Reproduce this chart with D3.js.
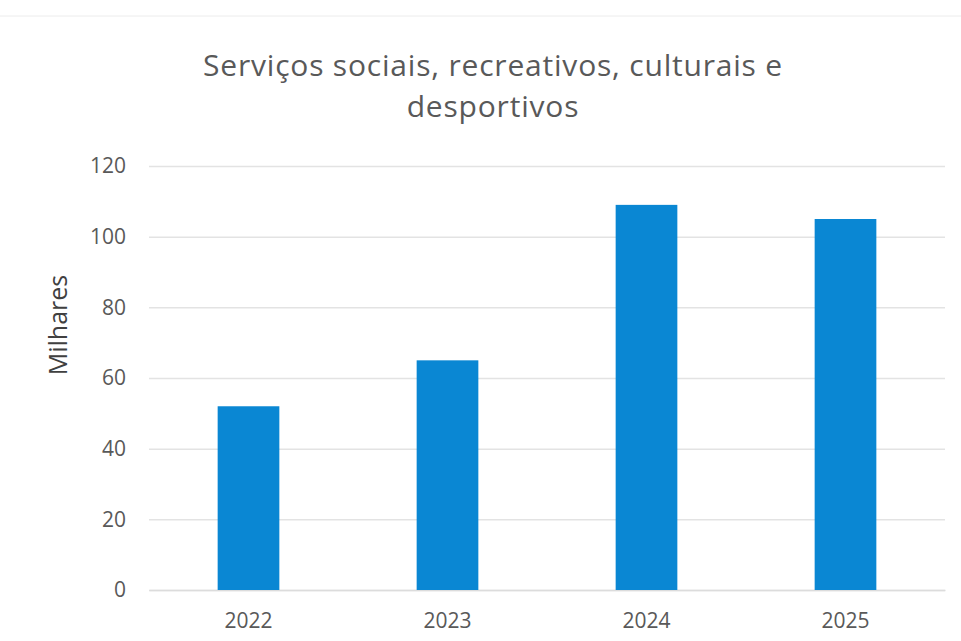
<!DOCTYPE html>
<html>
<head>
<meta charset="utf-8">
<script src="https://cdn.jsdelivr.net/npm/d3@7"></script>
<style>
  body { margin: 0; background: #fff; }
  svg { display: block; }
</style>
</head>
<body>
<svg id="vis" width="961" height="641"></svg>
<script>
var vis = d3.select("#vis");

// chart data
var years = ["2022", "2023", "2024", "2025"];
var values = [52, 65, 109, 105];
var yTicks = [0, 20, 40, 60, 80, 100, 120];
var titleLines = ["Serviços sociais, recreativos, culturais e", "desportivos"];
var yLabel = "Milhares";

var font = "'Open Sans', sans-serif";
var textColor = "#595959";

// plot area
var plotLeft = 149, plotRight = 945, plotTop = 166, plotBottom = 590;

var x = d3.scaleBand()
    .domain(years)
    .range([plotLeft, plotRight])
    .paddingInner(0.69)
    .paddingOuter(0.345);

var y = d3.scaleLinear()
    .domain([0, 120])
    .range([plotBottom, plotTop]);

// faint chart border at top
vis.append("line")
    .attr("x1", 0).attr("x2", 961)
    .attr("y1", 16).attr("y2", 16)
    .attr("stroke", "#ececec")
    .attr("stroke-width", 1);

// title
vis.append("text")
    .attr("text-anchor", "middle")
    .attr("font-family", font)
    .attr("font-size", "30px")
    .attr("letter-spacing", "0.8px")
    .attr("fill", textColor)
    .selectAll("tspan")
    .data(titleLines)
    .enter().append("tspan")
    .attr("x", 493)
    .attr("y", (d, i) => 76 + i * 41)
    .text(d => d);

// gridlines + y tick labels
var yAxis = d3.axisLeft(y)
    .tickValues(yTicks)
    .tickSize(-(plotRight - plotLeft))
    .tickPadding(23);

var gy = vis.append("g")
    .attr("transform", `translate(${plotLeft},0)`)
    .call(yAxis);
gy.select(".domain").remove();
gy.selectAll(".tick line")
    .attr("stroke", "#e3e3e3")
    .attr("stroke-width", 1.5);
gy.selectAll(".tick text")
    .attr("font-family", font)
    .attr("font-size", "21px")
    .attr("fill", textColor);

// x axis labels
var xAxis = d3.axisBottom(x).tickSize(0).tickPadding(23);
var gx = vis.append("g")
    .attr("transform", `translate(0,${plotBottom})`)
    .call(xAxis);
gx.select(".domain")
    .attr("stroke", "#dcdcdc")
    .attr("stroke-width", 1.5);
gx.selectAll(".tick text")
    .attr("font-family", font)
    .attr("font-size", "21px")
    .attr("fill", textColor);

// bars
vis.selectAll(".bar")
    .data(values)
    .enter().append("rect")
    .attr("class", "bar")
    .attr("x", (d, i) => x(years[i]))
    .attr("y", d => y(d))
    .attr("width", x.bandwidth())
    .attr("height", d => plotBottom - y(d))
    .attr("fill", "#0a87d3");

// y axis title
vis.append("text")
    .attr("transform", `translate(67,325) rotate(-90)`)
    .attr("text-anchor", "middle")
    .attr("font-family", font)
    .attr("font-size", "25px")
    .attr("fill", "#404040")
    .text(yLabel);
</script>
</body>
</html>
